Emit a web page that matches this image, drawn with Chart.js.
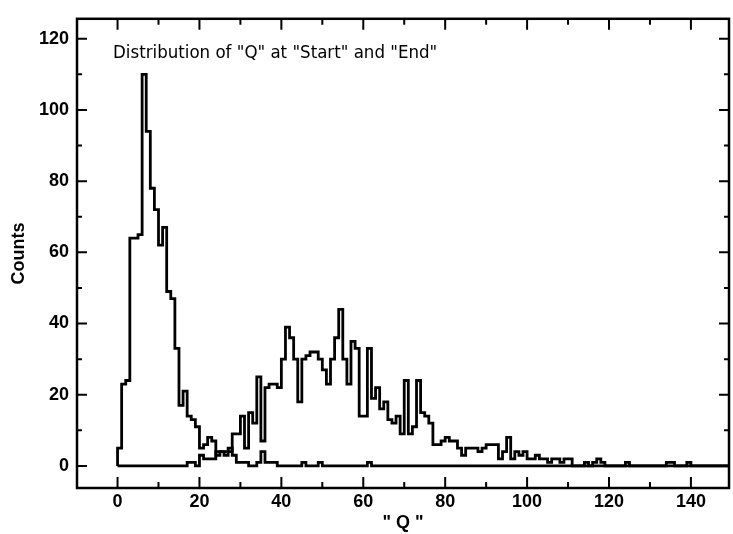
<!DOCTYPE html>
<html>
<head>
<meta charset="utf-8">
<script src="https://cdn.jsdelivr.net/npm/chart.js@4.4.0/dist/chart.umd.min.js"></script>
<style>
  html, body { margin: 0; padding: 0; background: #fff; }
  #wrap { width: 733px; height: 534px; }
</style>
</head>
<body>
<div id="wrap"><canvas id="chart"></canvas></div>
<script>
// histogram of Q, one bin per unit, bin i covers [i, i+1)
const binWidth = 1

const startCounts = [
  5, 23, 24, 64, 64, 65, 110, 94, 78, 72,
  62, 67, 49, 47, 33, 17, 21, 14, 13, 11,
  5, 6, 8, 7, 3, 4, 4, 5, 3, 1,
  1, 1, 0, 0, 1, 4, 1, 1, 1, 0,
  0, 0, 0, 0, 0, 1, 0, 0, 0, 1,
  0, 0, 0, 0, 0, 0, 0, 0, 0, 0,
  0, 1, 0, 0, 0, 0, 0, 0, 0, 0
]

const endCounts = [
  0, 0, 0, 0, 0, 0, 0, 0, 0, 0,
  0, 0, 0, 0, 0, 0, 0, 1, 1, 0,
  3, 2, 2, 2, 4, 4, 3, 4, 9, 9,
  14, 5, 15, 12, 25, 7, 22, 23, 23, 22,
  30, 39, 36, 30, 18, 30, 31, 32, 32, 30,
  27, 23, 30, 36, 44, 30, 23, 35, 33, 14,
  14, 33, 19, 22, 16, 18, 13, 12, 14, 9,
  24, 9, 11, 24, 15, 14, 12, 6, 6, 7,
  8, 7, 7, 5, 3, 5, 5, 5, 4, 5,
  6, 6, 6, 2, 4, 8, 2, 4, 3, 4,
  2, 2, 3, 2, 2, 1, 2, 2, 1, 2,
  2, 0, 0, 0, 1, 0, 1, 2, 1, 0,
  0, 0, 0, 0, 1, 0, 0, 0, 0, 0,
  0, 0, 0, 0, 1, 1, 0, 0, 0, 1,
  0, 0, 0, 0, 0, 0, 0, 0, 0, 0
]

const xTickValues = [0, 20, 40, 60, 80, 100, 120, 140]
const xMinorTicks = [10, 30, 50, 70, 90, 110, 130]
const yTickValues = [0, 20, 40, 60, 80, 100, 120]
const yMinorTicks = [10, 30, 50, 70, 90, 110]
const plotTitle = 'Distribution of "Q" at "Start" and "End"'

const toSteps = (counts, nBins) => {
  const pts = [{ x: 0, y: 0 }]
  for (let i = 0; i < nBins; i++) {
    pts.push({ x: i * binWidth, y: counts[i] || 0 })
  }
  pts.push({ x: nBins * binWidth, y: 0 })
  return pts
}

const tickFont = { family: 'Liberation Sans, Arial, sans-serif', size: 18, weight: 'bold' }

const frameTicks = {
  id: 'frameTicks',
  afterDatasetsDraw(chart) {
    const { ctx, chartArea: a, scales: { x, y } } = chart
    ctx.save()
    ctx.strokeStyle = '#000'
    ctx.lineWidth = 2.5
    ctx.strokeRect(a.left, a.top, a.right - a.left, a.bottom - a.top)

    ctx.lineWidth = 2
    ctx.beginPath()
    const xt = (v, len) => {
      const px = x.getPixelForValue(v)
      ctx.moveTo(px, a.bottom); ctx.lineTo(px, a.bottom - len)
      ctx.moveTo(px, a.top); ctx.lineTo(px, a.top + len)
    }
    const yt = (v, len) => {
      const py = y.getPixelForValue(v)
      ctx.moveTo(a.left, py); ctx.lineTo(a.left + len, py)
      ctx.moveTo(a.right, py); ctx.lineTo(a.right - len, py)
    }
    xTickValues.forEach(v => xt(v, 11))
    xMinorTicks.forEach(v => xt(v, 6))
    yTickValues.forEach(v => yt(v, 10))
    yMinorTicks.forEach(v => yt(v, 5))
    ctx.stroke()

    ctx.fillStyle = '#000'
    ctx.font = '18.5px "Liberation Sans Narrow", "DejaVu Sans Condensed", sans-serif'
    ctx.textBaseline = 'middle'
    ctx.textAlign = 'left'
    ctx.fillText(plotTitle, x.getPixelForValue(-1.1), y.getPixelForValue(116))
    ctx.restore()
  }
}

const nBins = 150

new Chart(document.getElementById('chart'), {
  type: 'line',
  data: {
    datasets: [
      { label: 'Start', data: toSteps(startCounts, nBins) },
      { label: 'End', data: toSteps(endCounts, nBins) }
    ]
  },
  options: {
    responsive: true,
    maintainAspectRatio: false,
    animation: false,
    layout: { padding: { left: 0, top: 17, right: 4, bottom: 0 } },
    elements: {
      line: { stepped: 'before', borderColor: '#000', borderWidth: 2.8, tension: 0, fill: false },
      point: { radius: 0, hoverRadius: 0 }
    },
    plugins: {
      legend: { display: false },
      tooltip: { enabled: false }
    },
    scales: {
      x: {
        type: 'linear',
        min: -9.9,
        max: 149.3,
        afterBuildTicks: s => { s.ticks = xTickValues.map(v => ({ value: v })) },
        afterFit: s => { s.height = 46 },
        grid: { display: false, drawTicks: false },
        border: { display: false },
        ticks: { autoSkip: false, maxRotation: 0, padding: 3, color: '#000', font: tickFont },
        title: { display: true, text: '" Q "', color: '#000', font: tickFont, padding: { top: 0, bottom: 0 } }
      },
      y: {
        type: 'linear',
        min: -6.2,
        max: 125.6,
        afterBuildTicks: s => { s.ticks = yTickValues.map(v => ({ value: v })) },
        afterFit: s => { s.width = 77 },
        grid: { display: false, drawTicks: false },
        border: { display: false },
        ticks: { autoSkip: false, padding: 8, color: '#000', font: tickFont },
        title: { display: true, text: 'Counts', color: '#000', font: tickFont, padding: { top: 8, bottom: 0 } }
      }
    }
  },
  plugins: [frameTicks]
})
</script>
</body>
</html>
